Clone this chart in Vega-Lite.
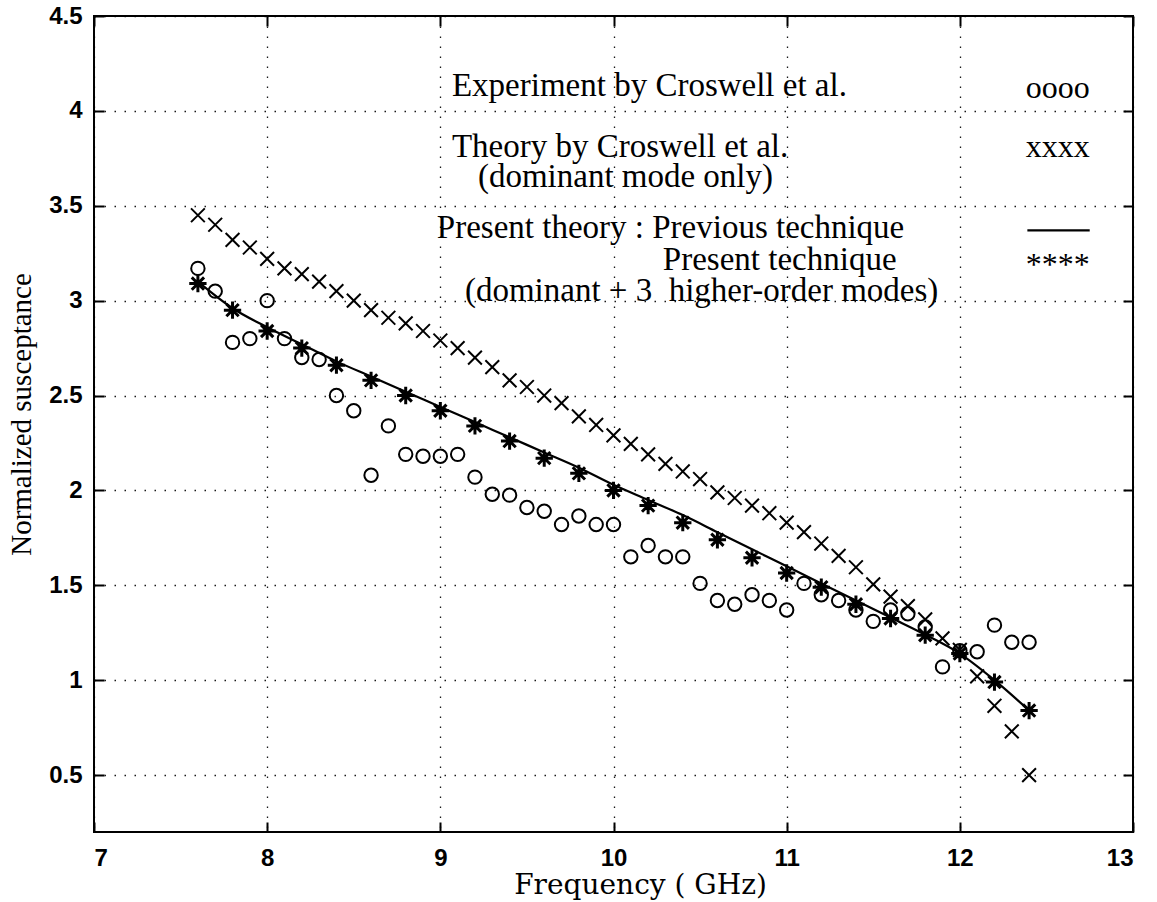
{
  "$schema": "https://vega.github.io/schema/vega-lite/v6.json",
  "width": 1039,
  "height": 816,
  "autosize": {"type": "none"},
  "padding": {"left": 94, "top": 16, "right": 24, "bottom": 70},
  "background": "white",
  "config": {
    "view": {"stroke": "black", "strokeWidth": 2},
    "axis": {
      "labelFont": "Liberation Sans",
      "labelFontSize": 24,
      "labelFontWeight": "bold",
      "labelColor": "black",
      "titleFont": "Liberation Serif",
      "titleFontSize": 29,
      "titleFontWeight": "normal",
      "titleColor": "black",
      "gridColor": "black",
      "gridDash": [1.5, 8.5],
      "gridWidth": 1.3,
      "gridOpacity": 0.9,
      "domain": false,
      "tickColor": "black",
      "tickWidth": 2,
      "tickSize": -10,
      "format": "~g"
    }
  },
  "datasets": {
    "circles": [
      {"f": 7.6, "b": 3.17}, {"f": 7.7, "b": 3.05}, {"f": 7.8, "b": 2.78}, {"f": 7.9, "b": 2.80}, {"f": 8.0, "b": 3.00},
      {"f": 8.1, "b": 2.80}, {"f": 8.2, "b": 2.70}, {"f": 8.3, "b": 2.69}, {"f": 8.4, "b": 2.50}, {"f": 8.5, "b": 2.42},
      {"f": 8.6, "b": 2.08}, {"f": 8.7, "b": 2.34}, {"f": 8.8, "b": 2.19}, {"f": 8.9, "b": 2.18}, {"f": 9.0, "b": 2.18},
      {"f": 9.1, "b": 2.19}, {"f": 9.2, "b": 2.07}, {"f": 9.3, "b": 1.98}, {"f": 9.4, "b": 1.975}, {"f": 9.5, "b": 1.91},
      {"f": 9.6, "b": 1.89}, {"f": 9.7, "b": 1.82}, {"f": 9.8, "b": 1.865}, {"f": 9.9, "b": 1.82}, {"f": 10.0, "b": 1.82},
      {"f": 10.1, "b": 1.65}, {"f": 10.2, "b": 1.71}, {"f": 10.3, "b": 1.65}, {"f": 10.4, "b": 1.65}, {"f": 10.5, "b": 1.51},
      {"f": 10.6, "b": 1.42}, {"f": 10.7, "b": 1.40}, {"f": 10.8, "b": 1.45}, {"f": 10.9, "b": 1.42}, {"f": 11.0, "b": 1.37},
      {"f": 11.1, "b": 1.51}, {"f": 11.2, "b": 1.45}, {"f": 11.3, "b": 1.42}, {"f": 11.4, "b": 1.37}, {"f": 11.5, "b": 1.31},
      {"f": 11.6, "b": 1.37}, {"f": 11.7, "b": 1.35}, {"f": 11.8, "b": 1.28}, {"f": 11.9, "b": 1.07}, {"f": 12.0, "b": 1.155},
      {"f": 12.1, "b": 1.15}, {"f": 12.2, "b": 1.29}, {"f": 12.3, "b": 1.20}, {"f": 12.4, "b": 1.20}
    ],
    "crosses": [
      {"f": 7.6, "b": 3.45}, {"f": 7.7, "b": 3.40}, {"f": 7.8, "b": 3.32}, {"f": 7.9, "b": 3.28}, {"f": 8.0, "b": 3.22},
      {"f": 8.1, "b": 3.17}, {"f": 8.2, "b": 3.14}, {"f": 8.3, "b": 3.10}, {"f": 8.4, "b": 3.05}, {"f": 8.5, "b": 3.00},
      {"f": 8.6, "b": 2.95}, {"f": 8.7, "b": 2.91}, {"f": 8.8, "b": 2.88}, {"f": 8.9, "b": 2.84}, {"f": 9.0, "b": 2.79},
      {"f": 9.1, "b": 2.75}, {"f": 9.2, "b": 2.70}, {"f": 9.3, "b": 2.65}, {"f": 9.4, "b": 2.58}, {"f": 9.5, "b": 2.545},
      {"f": 9.6, "b": 2.50}, {"f": 9.7, "b": 2.46}, {"f": 9.8, "b": 2.39}, {"f": 9.9, "b": 2.345}, {"f": 10.0, "b": 2.29},
      {"f": 10.1, "b": 2.245}, {"f": 10.2, "b": 2.19}, {"f": 10.3, "b": 2.14}, {"f": 10.4, "b": 2.10}, {"f": 10.5, "b": 2.06},
      {"f": 10.6, "b": 1.99}, {"f": 10.7, "b": 1.96}, {"f": 10.8, "b": 1.92}, {"f": 10.9, "b": 1.88}, {"f": 11.0, "b": 1.83},
      {"f": 11.1, "b": 1.78}, {"f": 11.2, "b": 1.72}, {"f": 11.3, "b": 1.655}, {"f": 11.4, "b": 1.595}, {"f": 11.5, "b": 1.505},
      {"f": 11.6, "b": 1.44}, {"f": 11.7, "b": 1.39}, {"f": 11.8, "b": 1.32}, {"f": 11.9, "b": 1.22}, {"f": 12.0, "b": 1.16},
      {"f": 12.1, "b": 1.02}, {"f": 12.2, "b": 0.865}, {"f": 12.3, "b": 0.73}, {"f": 12.4, "b": 0.50}
    ],
    "stars": [
      {"f": 7.6, "b": 3.09}, {"f": 7.8, "b": 2.95}, {"f": 8.0, "b": 2.84}, {"f": 8.2, "b": 2.75}, {"f": 8.4, "b": 2.66},
      {"f": 8.6, "b": 2.58}, {"f": 8.8, "b": 2.50}, {"f": 9.0, "b": 2.42}, {"f": 9.2, "b": 2.34}, {"f": 9.4, "b": 2.26},
      {"f": 9.6, "b": 2.17}, {"f": 9.8, "b": 2.09}, {"f": 10.0, "b": 2.00}, {"f": 10.2, "b": 1.92}, {"f": 10.4, "b": 1.83},
      {"f": 10.6, "b": 1.74}, {"f": 10.8, "b": 1.645}, {"f": 11.0, "b": 1.565}, {"f": 11.2, "b": 1.49}, {"f": 11.4, "b": 1.40},
      {"f": 11.6, "b": 1.325}, {"f": 11.8, "b": 1.237}, {"f": 12.0, "b": 1.14}, {"f": 12.2, "b": 0.99}, {"f": 12.4, "b": 0.84}
    ],
    "line": [
      {"f": 7.6, "b": 3.10}, {"f": 7.8, "b": 2.96}, {"f": 8.0, "b": 2.86}, {"f": 8.2, "b": 2.77}, {"f": 8.4, "b": 2.68},
      {"f": 8.6, "b": 2.60}, {"f": 8.8, "b": 2.52}, {"f": 9.0, "b": 2.44}, {"f": 9.2, "b": 2.36}, {"f": 9.4, "b": 2.28},
      {"f": 9.6, "b": 2.20}, {"f": 9.8, "b": 2.12}, {"f": 10.0, "b": 2.03}, {"f": 10.2, "b": 1.95}, {"f": 10.4, "b": 1.87},
      {"f": 10.6, "b": 1.78}, {"f": 10.8, "b": 1.69}, {"f": 11.0, "b": 1.60}, {"f": 11.2, "b": 1.51}, {"f": 11.4, "b": 1.42},
      {"f": 11.6, "b": 1.33}, {"f": 11.8, "b": 1.24}, {"f": 12.0, "b": 1.14}, {"f": 12.2, "b": 1.00}, {"f": 12.4, "b": 0.84}
    ],
    "labels": [
      {"t": "Experiment by Croswell et al.", "f": 9.067, "b": 4.13},
      {"t": "Theory by Croswell et al.", "f": 9.067, "b": 3.81},
      {"t": "(dominant mode only)", "f": 9.217, "b": 3.65},
      {"t": "Present theory : Previous technique", "f": 8.98, "b": 3.385},
      {"t": "Present technique", "f": 10.285, "b": 3.215},
      {"t": "(dominant + 3\u00a0 higher-order modes)", "f": 9.142, "b": 3.05}
    ],
    "symbols": [
      {"t": "oooo", "f": 12.75, "b": 4.12},
      {"t": "xxxx", "f": 12.75, "b": 3.81},
      {"t": "****", "f": 12.75, "b": 3.19}
    ],
    "dash": [
      {"f": 12.39, "f2": 12.75, "b": 3.37}
    ]
  },
  "encoding": {
    "x": {"field": "f", "type": "quantitative", "axis": null, "scale": {"domain": [7, 13], "nice": false, "zero": false}},
    "y": {"field": "b", "type": "quantitative", "axis": null, "scale": {"domain": [0.2, 4.5], "nice": false, "zero": false}}
  },
  "layer": [
    {
      "data": {"name": "line"},
      "mark": {"type": "line", "color": "black", "strokeWidth": 2.2, "interpolate": "monotone"},
      "encoding": {
        "x": {"field": "f", "type": "quantitative", "axis": {"orient": "bottom", "values": [7, 8, 9, 10, 11, 12, 13], "title": "Frequency ( GHz)", "titleFont": "DejaVu Serif", "titleFontSize": 28, "titleX": 546, "labelPadding": 24, "titlePadding": 1}},
        "y": {"field": "b", "type": "quantitative", "axis": {"orient": "left", "values": [0.5, 1, 1.5, 2, 2.5, 3, 3.5, 4, 4.5], "title": "Normalized susceptance", "titleY": 398, "labelPadding": 22, "titlePadding": 12}}
      }
    },
    {
      "data": {"name": "circles"},
      "mark": {"type": "point", "shape": "circle", "filled": false, "color": "black", "strokeWidth": 2, "size": 180, "opacity": 1}
    },
    {
      "data": {"name": "crosses"},
      "mark": {"type": "point", "shape": "M-1,-1L1,1M-1,1L1,-1", "filled": false, "color": "black", "strokeWidth": 2, "size": 190, "opacity": 1}
    },
    {
      "data": {"name": "stars"},
      "mark": {"type": "point", "shape": "M-1,0L1,0M0,-1L0,1M-0.71,-0.71L0.71,0.71M-0.71,0.71L0.71,-0.71", "filled": false, "color": "black", "strokeWidth": 3, "size": 300, "opacity": 1},
      "encoding": {
        "x": {"field": "f", "type": "quantitative", "axis": {"orient": "top", "values": [7, 8, 9, 10, 11, 12, 13], "labels": false, "grid": false, "title": null}},
        "y": {"field": "b", "type": "quantitative", "axis": {"orient": "right", "values": [0.5, 1, 1.5, 2, 2.5, 3, 3.5, 4, 4.5], "labels": false, "grid": false, "title": null}}
      }
    },
    {
      "data": {"name": "labels"},
      "mark": {"type": "text", "align": "left", "baseline": "middle", "font": "Liberation Serif", "fontSize": 33, "color": "black"},
      "encoding": {"text": {"field": "t", "type": "nominal"}}
    },
    {
      "data": {"name": "symbols"},
      "mark": {"type": "text", "align": "right", "baseline": "middle", "font": "Liberation Serif", "fontSize": 32, "color": "black"},
      "encoding": {"text": {"field": "t", "type": "nominal"}}
    },
    {
      "data": {"name": "dash"},
      "mark": {"type": "rule", "color": "black", "strokeWidth": 2.2},
      "encoding": {"x2": {"field": "f2"}}
    }
  ]
}
